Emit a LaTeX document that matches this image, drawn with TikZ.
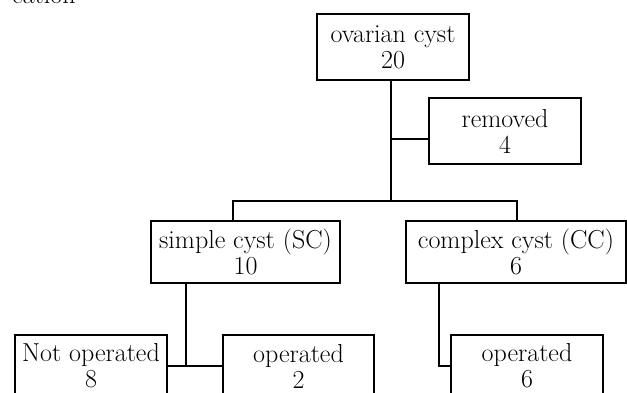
\documentclass[tikz,border=0pt]{standalone}
\begin{document}
\begin{tikzpicture}[
      x=1pt, y=-1pt,
      box/.style={draw, line width=1.3pt, align=center, inner sep=0pt,
        font=\fontsize{26}{26}\selectfont},
      link/.style={line width=1.1pt},
      ]
      \useasboundingbox (0,0) rectangle (627,392);

      \coordinate (Split) at (391,201);
      \coordinate (RJ) at (391,139);
      \coordinate (BL) at (233,201);
      \coordinate (BR) at (517,201);
      \coordinate (SJ) at (186,366);
      \coordinate (CJ) at (439,366);

      \node[anchor=base west, inner sep=0pt, font=\fontsize{26}{26}\selectfont] (caption) at (12,3) {cation};

      \node[box, minimum width=152pt, minimum height=66pt] (ovarian) at (393,47) {ovarian cyst\\20};
      \node[box, minimum width=152pt, minimum height=66pt] (removed) at (505,131) {removed\\4};

      \node[box, minimum width=189pt, minimum height=62pt] (simple) at (245.5,252) {simple cyst (SC)\\10};
      \node[box, minimum width=220pt, minimum height=62pt] (complex) at (516,252) {complex cyst (CC)\\6};

      \node[box, minimum width=152pt, minimum height=62pt] (notop) at (91,366) {Not operated\\8};
      \node[box, minimum width=151pt, minimum height=62pt] (optwo) at (298.5,366) {operated\\2};
      \node[box, minimum width=152pt, minimum height=62pt] (opsix) at (527,366) {operated\\6};

      \draw[link] (ovarian.south -| Split) -- (Split);
      \draw[link] (RJ) -- (RJ -| removed.west);
      \draw[link] (BL |- simple.north) -- (BL) -- (BR) -- (BR |- complex.north);

      \draw[link] (simple.south -| SJ) -- (SJ);
      \draw[link] (notop.east) -- (optwo.west);

      \draw[link] (complex.south -| CJ) -- (CJ) -- (opsix.west);
\end{tikzpicture}
\end{document}
